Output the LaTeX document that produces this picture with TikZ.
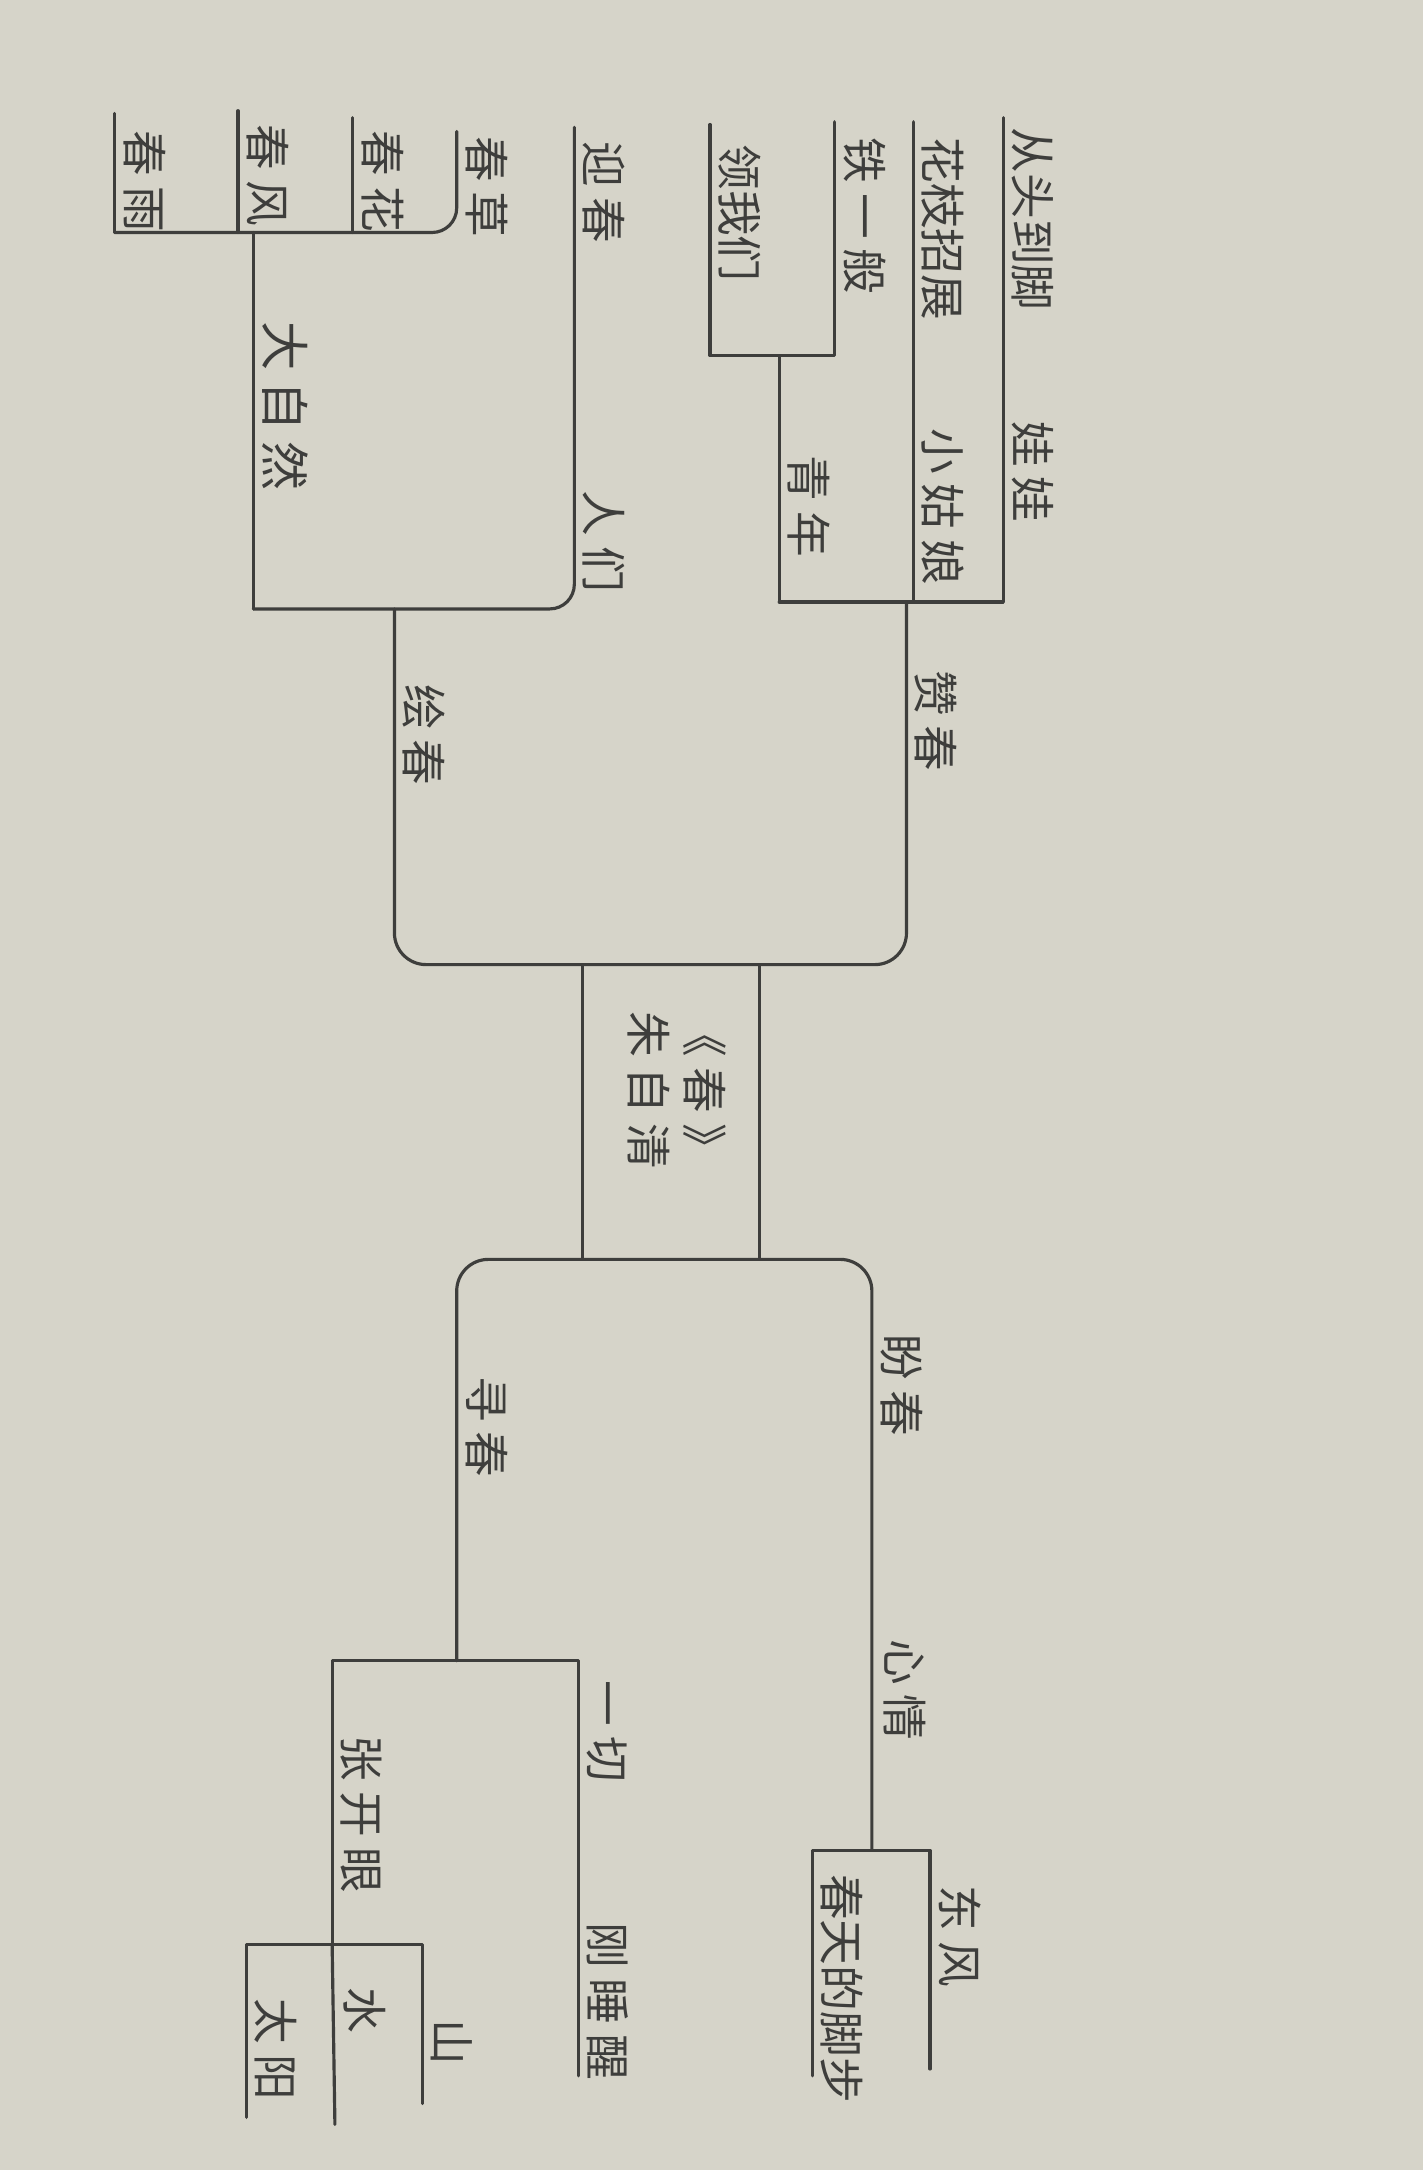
\documentclass[tikz,border=0pt]{standalone}
\usepackage{fontspec}
\newfontfamily\hand[LetterSpace=22]{Noto Sans CJK SC}
\newfontfamily\handtight[LetterSpace=0]{Noto Sans CJK SC}
\usepackage{tikz}
\definecolor{paper}{RGB}{214, 212, 201}
\definecolor{pencil}{RGB}{62, 62, 60}

\begin{document}
\begin{tikzpicture}[x=0.013833cm, y=-0.013833cm,
  line/.style={pencil, line width=0.9pt, line cap=round, line join=round},
  lbl/.style={rotate=-90, anchor=south west, inner sep=1.5pt, text=pencil,
    font=\hand\fontsize{13}{16}\selectfont},
  tight/.style={font=\handtight\fontsize{13}{16}\selectfont}]

  \fill[paper] (0, 0) rectangle (1028, 1568);
  \useasboundingbox (0, 0) rectangle (1028, 1568);

  % upper half: 绘春 and 赞春
  \coordinate (chunyu)   at (83, 82);
  \coordinate (chunfeng) at (172, 80);
  \coordinate (chunhua)  at (255, 85);
  \coordinate (chuncao)  at (330, 95);
  \coordinate (daziran)  at (183, 168);
  \coordinate (renmen)   at (415, 92);
  \coordinate (huichun)  at (285, 440);
  \coordinate (zanchun)  at (655, 435);
  \coordinate (wawa)     at (725, 85);
  \coordinate (guniang)  at (660, 88);
  \coordinate (qingnian) at (563, 257);
  \coordinate (tie)      at (603, 88);
  \coordinate (ling)     at (513, 90);

  \draw[line, rounded corners=7pt] (chunyu |- daziran) -- (chuncao |- daziran) -- (chuncao);
  \foreach \leaf in {chunyu, chunfeng, chunhua} {
    \draw[line] (\leaf) -- (\leaf |- daziran);
  }
  \draw[line] (daziran) -- (daziran |- huichun);
  \draw[line, rounded corners=7pt] (daziran |- huichun) -- (renmen |- huichun) -- (renmen);

  \draw[line] (qingnian |- zanchun) -- (wawa |- zanchun) -- (wawa);
  \draw[line] (guniang) -- (guniang |- zanchun);
  \draw[line] (qingnian |- zanchun) -- (qingnian);
  \draw[line] (ling) -- (ling |- qingnian) -- (tie |- qingnian) -- (tie);

  \draw[line, rounded corners=9pt] (huichun) -- (285, 697) -- (655, 697) -- (zanchun);

  % trunk
  \coordinate (trunkL) at (421, 697);
  \coordinate (trunkR) at (549, 697);
  \draw[line] (trunkL) -- (421, 910);
  \draw[line] (trunkR) -- (549, 910);

  % lower half: 寻春 and 盼春
  \coordinate (xunchun)  at (330, 1200);
  \coordinate (panchun)  at (630, 1337);
  \coordinate (dongfeng) at (672, 1495);
  \coordinate (jiaobu)   at (587, 1500);
  \coordinate (yiqie)    at (418, 1500);
  \coordinate (zhangkai) at (240, 1405);
  \coordinate (shan)     at (305, 1520);
  \coordinate (shui)     at (242, 1535);
  \coordinate (taiyang)  at (178, 1530);

  \draw[line, rounded corners=9pt] (xunchun) -- (330, 910) -- (630, 910) -- (panchun);
  \draw[line] (jiaobu) -- (jiaobu |- panchun) -- (dongfeng |- panchun) -- (dongfeng);
  \draw[line] (yiqie) -- (yiqie |- xunchun) -- (zhangkai |- xunchun) -- (zhangkai);
  \draw[line] (shan) -- (shan |- zhangkai) -- (taiyang |- zhangkai) -- (taiyang);
  \draw[line] (zhangkai) -- (shui);

  % labels
  \node[lbl] (l-chunyu)   at (85, 90)    {春雨};
  \node[lbl] (l-chunfeng) at (174, 86)   {春风};
  \node[lbl] (l-chunhua)  at (257, 90)   {春花};
  \node[lbl] (l-chuncao)  at (332, 94)   {春草};
  \node[lbl] (l-yingchun) at (417, 98)   {迎春};
  \node[lbl] (l-renmen)   at (417, 350)  {人们};
  \node[lbl, font=\hand\fontsize{14}{17}\selectfont] (l-daziran) at (185, 228) {大自然};
  \node[lbl] (l-huichun)  at (287, 490)  {绘春};
  \node[lbl] (l-zanchun)  at (657, 480)  {赞春};
  \node[lbl, tight] (l-congtou) at (727, 88) {从头到脚};
  \node[lbl] (l-wawa)     at (727, 300)  {娃娃};
  \node[lbl, tight] (l-huazhi) at (662, 95) {花枝招展};
  \node[lbl] (l-guniang)  at (662, 305)  {小姑娘};
  \node[lbl] (l-tie)      at (605, 95)   {铁一般};
  \node[lbl, tight] (l-ling) at (515, 100) {领我们};
  \node[lbl] (l-qingnian) at (565, 325)  {青年};

  \node[lbl, anchor=center, align=left] (l-title) at (489, 788) {《春》\\朱自清};

  \node[lbl] (l-xunchun)  at (332, 990)  {寻春};
  \node[lbl] (l-panchun)  at (632, 960)  {盼春};
  \node[lbl] (l-xinqing)  at (634, 1180) {心情};
  \node[lbl] (l-dongfeng) at (674, 1358) {东风};
  \node[lbl, tight] (l-jiaobu) at (589, 1350) {春天的脚步};
  \node[lbl] (l-yiqie)    at (420, 1210) {一切};
  \node[lbl] (l-shuixing) at (420, 1385) {刚睡醒};
  \node[lbl] (l-zhangkai) at (242, 1250) {张开眼};
  \node[lbl] (l-shan)     at (307, 1455) {山};
  \node[lbl] (l-shui)     at (244, 1432) {水};
  \node[lbl] (l-taiyang)  at (180, 1440) {太阳};

\end{tikzpicture}
\end{document}
